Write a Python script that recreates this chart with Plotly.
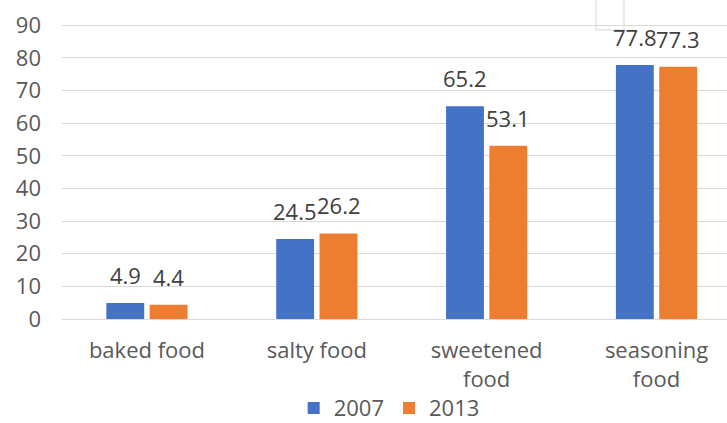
import plotly.graph_objects as go

categories = ["baked food", "salty food", "sweetened<br>food", "seasoning<br>food"]
series_names = ["2007", "2013"]
values_2007 = [4.9, 24.5, 65.2, 77.8]
values_2013 = [4.4, 26.2, 53.1, 77.3]
y_ticks = [0, 10, 20, 30, 40, 50, 60, 70, 80, 90]

colors = ["#4472C4", "#ED7D31"]
FONT = "Open Sans"
FS = 22
fig = go.Figure()
for name, vals, col in zip(series_names, [values_2007, values_2013], colors):
    fig.add_trace(go.Bar(x=categories, y=vals, name=name, marker=dict(color=col, line=dict(width=0))))

offsets = [-21.75, 21.75]
for vals, dx in zip([values_2007, values_2013], offsets):
    for c, v in zip(categories, vals):
        fig.add_annotation(x=c, y=v, xshift=dx, yshift=11, yanchor="bottom", showarrow=False,
                           text=f"{v:.1f}", font=dict(size=FS, color="#404040", family=FONT))

fig.update_layout(
    width=727, height=423,
    margin=dict(l=62, r=0, t=22, b=104, autoexpand=False),
    paper_bgcolor="white", plot_bgcolor="white",
    barmode="group", bargap=0.49, bargroupgap=0.126,
    font=dict(family=FONT, size=FS, color="#595959"),
    showlegend=True,
    legend=dict(orientation="h", x=0.492, xanchor="center", y=-0.30, yanchor="middle",
                font=dict(size=FS, color="#595959"), itemwidth=30, traceorder="normal",
                bgcolor="rgba(0,0,0,0)", tracegroupgap=0),
)
fig.update_xaxes(range=[-0.5, 3.415], showgrid=False, showline=False, ticks="", ticklabelstandoff=16,
                 automargin=False, tickfont=dict(size=FS, color="#595959"))
fig.update_yaxes(range=[0, 91], tickvals=y_ticks, showgrid=True, gridcolor="#D9D9D9", gridwidth=1,
                 zeroline=True, zerolinecolor="#D9D9D9", zerolinewidth=1, showline=False,
                 automargin=False, ticks="", ticklabelstandoff=20, tickfont=dict(size=FS, color="#595959"))
fig.add_shape(type="rect", xref="paper", yref="paper", x0=0.803, x1=0.845, y0=0.973, y1=1.2,
              line=dict(color="#EBEBEB", width=2), fillcolor="rgba(0,0,0,0)", layer="below")
fig.write_html("out.html")
